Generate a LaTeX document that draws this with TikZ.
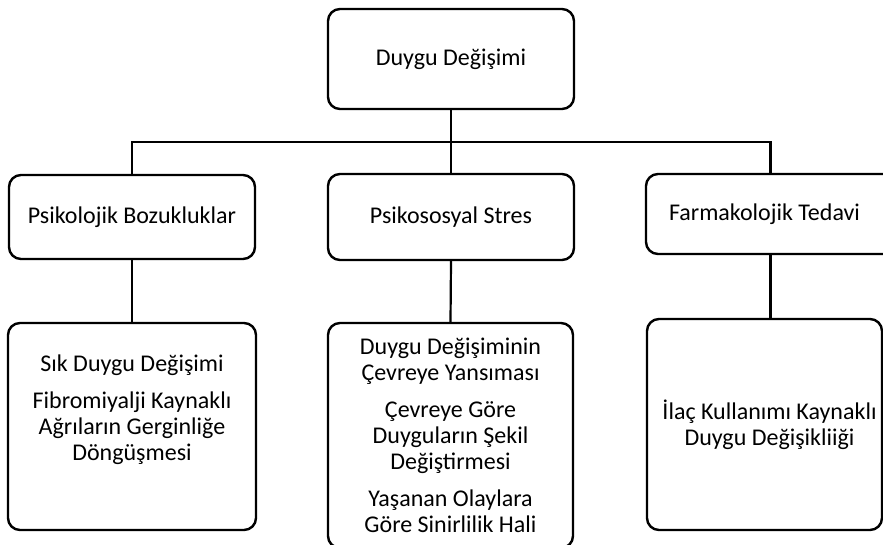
\documentclass[tikz,border=0pt]{standalone}
\usepackage{fontspec}
\setmainfont{Carlito}
\usepackage{tikz}
\usetikzlibrary{positioning}

\begin{document}
\begin{tikzpicture}[
  x=0.5pt, y=-0.5pt,
  font=\fontsize{12pt}{13pt}\selectfont,
  cell/.style={rectangle, rounded corners=6pt, draw=black, line width=1.2pt,
               fill=white, align=center, inner sep=2pt},
  txt/.style={align=center, inner sep=0pt},
  link/.style={line width=1.1pt, draw=black}]
\useasboundingbox (0,0) rectangle (883,545);
% root
\node[cell, minimum width=123pt, minimum height=50pt] (duygu) at (451,59) {Duygu Değişimi};
% second row
\node[cell, minimum width=123pt, minimum height=42pt] (psik) at (132,217) {Psikolojik Bozukluklar};
\node[cell, minimum width=123pt, minimum height=43pt] (sosyal) at (451,217) {Psikososyal Stres};
\node[cell, minimum width=124.5pt, minimum height=40pt] (farm) at (770.5,214) {\hspace*{-6pt}Farmakolojik Tedavi};
% third row
\node[cell, minimum width=124pt, minimum height=103.5pt] (sik) at (132,426.5) {};
\node[txt] (siktxt) at ([yshift=8.5pt]sik.center) {Sık Duygu Değişimi\\[5.5pt]
  Fibromiyalji Kaynaklı\\ Ağrıların Gerginliğe\\ Döngüşmesi};
\node[cell, minimum width=122.5pt, minimum height=112.5pt] (yansi) at (450.5,435.5) {Duygu Değişiminin\\ Çevreye Yansıması\\[5.5pt]
  Çevreye Göre\\ Duyguların Şekil\\ Değiştirmesi\\[5.5pt]
  Yaşanan Olaylara\\ Göre Sinirlilik Hali};
\node[cell, minimum width=117.5pt, minimum height=105.5pt] (ilac) at (764.5,424.5) {};
\node[txt] (ilactxt) at ([xshift=2.5pt]ilac.center) {İlaç Kullanımı Kaynaklı\\ Duygu Değişikliiği};
% connectors
\coordinate (bar) at (451,142);
\draw[link] (duygu.south) -- (sosyal.north);
\draw[link] (psik.north) |- (bar) -| (farm.north);
\draw[link] (psik.south) -- (sik.north);
\draw[link] (sosyal.south) -- (yansi.north);
\draw[link] (farm.south) -- (farm.south |- ilac.north);
\end{tikzpicture}
\end{document}
